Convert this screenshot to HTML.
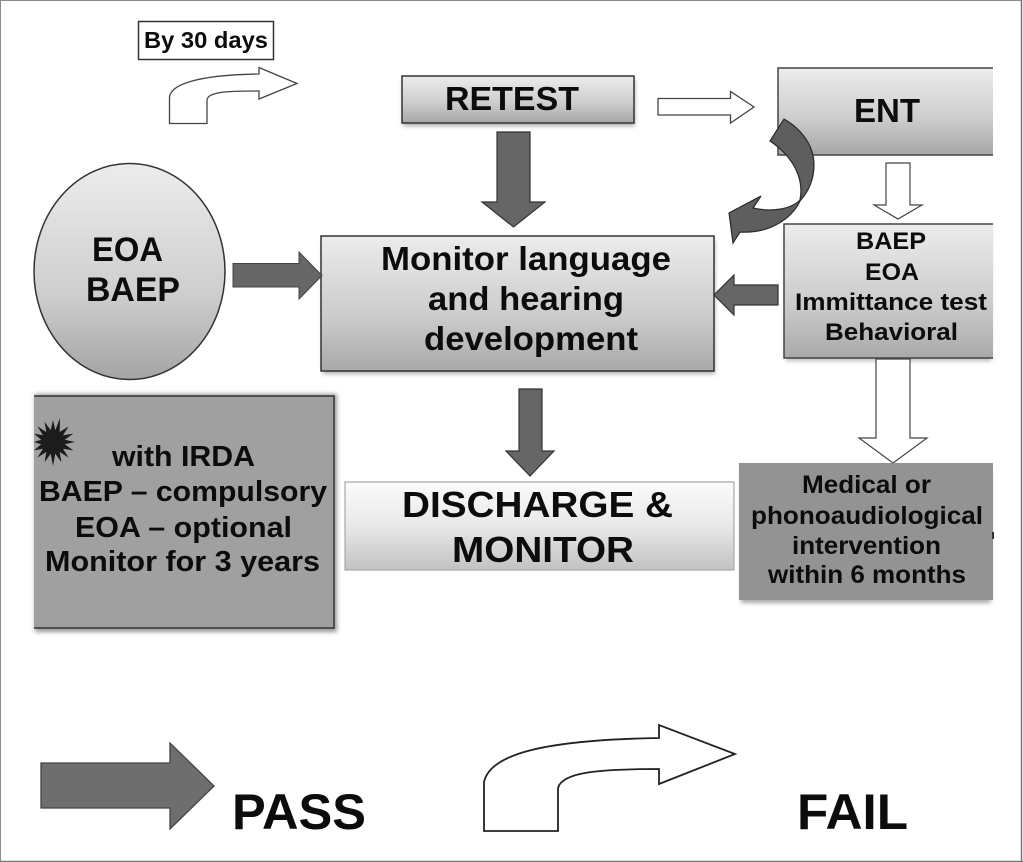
<!DOCTYPE html>
<html>
<head>
<meta charset="utf-8">
<style>
html,body{margin:0;padding:0;background:#fff;width:1023px;height:862px;overflow:hidden}
svg{display:block}
text{font-family:"Liberation Sans",sans-serif;font-weight:bold;fill:#0c0c0c}
</style>
</head>
<body>
<svg width="1023" height="862" viewBox="0 0 1023 862" xmlns="http://www.w3.org/2000/svg">
<defs>
<linearGradient id="g1" x1="0" y1="0" x2="0" y2="1"><stop offset="0" stop-color="#ececec"/><stop offset="0.55" stop-color="#cfcfcf"/><stop offset="1" stop-color="#a6a6a6"/></linearGradient>
<linearGradient id="g2" x1="0" y1="0" x2="0" y2="1"><stop offset="0" stop-color="#ececec"/><stop offset="0.6" stop-color="#cbcbcb"/><stop offset="1" stop-color="#a9a9a9"/></linearGradient>
<linearGradient id="g3" x1="0" y1="0" x2="0" y2="1"><stop offset="0" stop-color="#fbfbfb"/><stop offset="0.5" stop-color="#e8e8e8"/><stop offset="1" stop-color="#c2c2c2"/></linearGradient>
<linearGradient id="g4" x1="0" y1="0" x2="0" y2="1"><stop offset="0" stop-color="#ececec"/><stop offset="0.6" stop-color="#cecece"/><stop offset="1" stop-color="#a4a4a4"/></linearGradient>
<filter id="s" x="-10%" y="-10%" width="120%" height="120%"><feGaussianBlur stdDeviation="2.200"/></filter>
</defs>
<rect width="1023" height="862" fill="#fff"/>
<path d="M0.500 861.500V0.500H1021" fill="none" stroke="#8a8a8a"/>
<path d="M1021.500 0V862M0 861.500H1023" fill="none" stroke="#777" stroke-width="1.500"/>

<!-- shadows -->
<rect x="35" y="394" width="302" height="238" fill="#999" filter="url(#s)"/>
<rect x="403" y="79" width="232" height="47" fill="#aaa" filter="url(#s)"/>
<rect x="323" y="240" width="392" height="134" fill="#b0b0b0" filter="url(#s)"/>
<rect x="741" y="470" width="250" height="133" fill="#aaa" filter="url(#s)"/>
<rect x="786" y="228" width="205" height="133" fill="#bbb" filter="url(#s)"/>

<!-- By 30 days -->
<rect x="138.500" y="21.500" width="135" height="38" fill="#fff" stroke="#333" stroke-width="1.500"/>
<text x="144" y="48" font-size="23" textLength="124" lengthAdjust="spacingAndGlyphs">By 30 days</text>

<!-- small bent arrow -->
<path d="M169.500 123.500V97C171 85 195 75 259 74V67.500L297 83.500L259 99V91C225 91 208 92 207 100V123.500Z" fill="#fff" stroke="#444" stroke-width="1.300"/>

<!-- Retest -->
<rect x="402" y="76" width="232" height="47" fill="url(#g1)" stroke="#333" stroke-width="1.500"/>
<text x="445" y="110" font-size="33" textLength="134" lengthAdjust="spacingAndGlyphs">RETEST</text>

<!-- Retest -> ENT arrow -->
<path d="M658 98.500H730.500V91.500L754 107L730.500 123V115H658Z" fill="#fff" stroke="#444" stroke-width="1.300"/>

<!-- ENT -->
<rect x="778" y="68" width="215" height="87" fill="url(#g1)"/>
<path d="M993 68H778V155H993" fill="none" stroke="#444" stroke-width="1.500"/>
<text x="854" y="122" font-size="33" textLength="66" lengthAdjust="spacingAndGlyphs">ENT</text>

<!-- Retest -> Monitor -->
<path d="M497 132H530V202H545L513.500 227L482 202H497Z" fill="#666" stroke="#333" stroke-width="1.200"/>

<!-- ENT -> BAEP -->
<path d="M886 163H910V205H922L898 219L874 205H886Z" fill="#fff" stroke="#444" stroke-width="1.200"/>

<!-- BAEP box -->
<rect x="784" y="224" width="209" height="134" fill="url(#g2)"/>
<path d="M993 224H784V358H993" fill="none" stroke="#444" stroke-width="1.500"/>
<text x="856" y="249" font-size="24" textLength="70" lengthAdjust="spacingAndGlyphs">BAEP</text>
<text x="865" y="280" font-size="24" textLength="54" lengthAdjust="spacingAndGlyphs">EOA</text>
<text x="795" y="310" font-size="24" textLength="192" lengthAdjust="spacingAndGlyphs">Immittance test</text>
<text x="825" y="340" font-size="24" textLength="133" lengthAdjust="spacingAndGlyphs">Behavioral</text>

<!-- Curved arrow -->
<path d="M784 119C803 130 814 147 814 165C814 180 808 192 800 201C792 218 770 234 740 232L733 243L729 213L761 196L753 208C770 212 790 210 800 200C804 180 795 158 770 141Z" fill="#5e5e5e" stroke="#2a2a2a" stroke-width="1.200"/>

<!-- EOA BAEP circle -->
<ellipse cx="129.500" cy="271.500" rx="95.500" ry="108" fill="url(#g4)" stroke="#333" stroke-width="1.500"/>
<text x="92" y="261" font-size="34" textLength="71" lengthAdjust="spacingAndGlyphs">EOA</text>
<text x="86" y="301" font-size="34" textLength="94" lengthAdjust="spacingAndGlyphs">BAEP</text>

<!-- Monitor -->
<rect x="321" y="236" width="393" height="135" fill="url(#g2)" stroke="#333" stroke-width="1.500"/>
<text x="381" y="270" font-size="33" textLength="290" lengthAdjust="spacingAndGlyphs">Monitor language</text>
<text x="428" y="310" font-size="33" textLength="196" lengthAdjust="spacingAndGlyphs">and hearing</text>
<text x="424" y="350" font-size="33" textLength="214" lengthAdjust="spacingAndGlyphs">development</text>

<!-- circle -> monitor -->
<path d="M233 263.500H299V252L322 275.500L299 299V287H233Z" fill="#666" stroke="#444" stroke-width="1"/>

<!-- BAEP -> monitor -->
<path d="M778 285V305H734V315L714 295L734 275V285Z" fill="#666" stroke="#333" stroke-width="1.200"/>

<!-- BAEP -> medical -->
<path d="M876 359H910V438H927L893 463L859 438H876Z" fill="#fff" stroke="#444" stroke-width="1.200"/>

<!-- Monitor -> discharge -->
<path d="M519 389H542V451H554L530 476L506 451H519Z" fill="#666" stroke="#333" stroke-width="1.200"/>

<!-- Gray box -->
<rect x="34" y="396" width="300" height="232" fill="#a0a0a0"/>
<path d="M34 396H334V628H34" fill="none" stroke="#333" stroke-width="1.500"/>
<path d="M75 442L64.800 444.300L73.300 450.400L63 448.700L68.600 457.600L59.700 452L61.400 462.300L55.300 453.800L53 466L50.700 453.800L44.600 462.300L46.300 452L37.400 457.600L43 448.700L34 450.400L41.200 444.300L34 442L41.200 439.700L34 433.600L43 435.300L37.400 426.400L46.300 432L44.600 421.700L50.700 430.200L53 420L55.300 430.200L60 418L59.700 432L68.600 426.400L63 435.300L73.300 433.600L64.800 439.700Z" fill="#1c1c1c"/>
<text x="112" y="466" font-size="29" textLength="143" lengthAdjust="spacingAndGlyphs">with IRDA</text>
<text x="39" y="501" font-size="29" textLength="288" lengthAdjust="spacingAndGlyphs">BAEP – compulsory</text>
<text x="75" y="537" font-size="29" textLength="217" lengthAdjust="spacingAndGlyphs">EOA – optional</text>
<text x="45" y="571" font-size="29" textLength="275" lengthAdjust="spacingAndGlyphs">Monitor for 3 years</text>

<!-- Discharge -->
<rect x="345" y="482" width="389" height="88" fill="url(#g3)" stroke="#a8a8a8" stroke-width="1.200"/>
<text x="402" y="517" font-size="36" textLength="271" lengthAdjust="spacingAndGlyphs">DISCHARGE &amp;</text>
<text x="452" y="562" font-size="36" textLength="182" lengthAdjust="spacingAndGlyphs">MONITOR</text>

<!-- Medical -->
<rect x="739" y="463" width="254" height="137" fill="#939393"/>
<rect x="992" y="532" width="2" height="7" fill="#333"/>
<text x="802" y="493" font-size="25" textLength="129" lengthAdjust="spacingAndGlyphs">Medical or</text>
<text x="751" y="524" font-size="25" textLength="232" lengthAdjust="spacingAndGlyphs">phonoaudiological</text>
<text x="792" y="554" font-size="25" textLength="149" lengthAdjust="spacingAndGlyphs">intervention</text>
<text x="768" y="583" font-size="25" textLength="198" lengthAdjust="spacingAndGlyphs">within 6 months</text>

<!-- Legend -->
<path d="M41 763H170V743L214 786L170 829V808H41Z" fill="#6e6e6e" stroke="#444" stroke-width="1.300"/>
<text x="232" y="829" font-size="50" textLength="134" lengthAdjust="spacingAndGlyphs">PASS</text>
<path d="M484 831V782C490 755 540 740 659 738V725L735 754L659 784V769C600 769 562 772 558 788V831Z" fill="#fff" stroke="#222" stroke-width="1.800"/>
<text x="797" y="829" font-size="50" textLength="111" lengthAdjust="spacingAndGlyphs">FAIL</text>
</svg>
</body>
</html>
